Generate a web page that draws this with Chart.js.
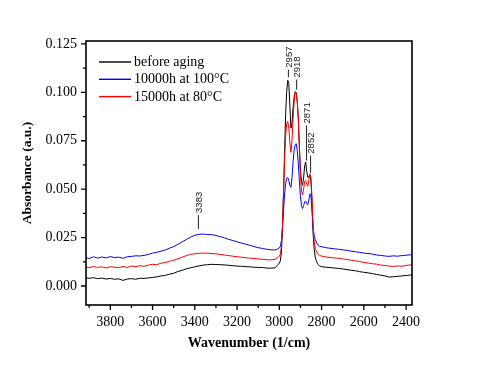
<!DOCTYPE html>
<html><head><meta charset="utf-8">
<script src="https://cdn.jsdelivr.net/npm/chart.js@4/dist/chart.umd.min.js"></script>
<style>html,body{margin:0;padding:0;background:#fff;}canvas{display:block;}</style>
</head><body>
<canvas id="c" width="480" height="367"></canvas>
<script>
const wavenumbers = [
  3920,3900,3880,3860,3840,3820,3800,3780,3760,3740,3720,3700,3680,3660,3640,3620,3600,3580,3560,3540,3520,3500,3480,3460,3440,3420,3400,3380,3360,3340,3320,3300,3280,3260,3240,3220,3200,3180,3160,3140,3120,3100,3080,3060,3040,3020,
  3010,3005,3000,2995,2990,2985,2980,2975,2970,2965,2960,2955,2950,2945,2940,2935,2930,2925,2920,2915,2910,2905,2900,2895,2890,2885,2880,2875,2870,2865,2860,2855,2850,2845,2840,2835,2830,2825,2820,2815,2810,
  2800,2780,2760,2740,2720,2700,2680,2660,2640,2620,2600,2580,2560,2540,2520,2500,2480,2460,2440,2420,2400,2380,2370
];
const beforeAging = [
  0.0042,0.0040,0.0043,0.0038,0.0041,0.0036,0.0039,0.0035,0.0037,0.0029,0.0036,0.0038,0.0035,0.0040,0.0039,0.0042,0.0044,0.0047,0.0052,0.0055,0.0061,0.0066,0.0075,0.0081,0.0089,0.0094,0.0099,0.0104,0.0108,0.0110,0.0112,0.0111,0.0110,0.0109,0.0107,0.0105,0.0103,0.0102,0.0100,0.0099,0.0097,0.0096,0.0095,0.0093,0.0092,0.0094,
  0.0105,0.0112,0.0118,0.0130,0.0175,0.0300,0.0480,0.0700,0.0890,0.1005,0.1062,0.1045,0.0930,0.0815,0.0840,0.0920,0.0975,0.1003,0.1000,0.0950,0.0860,0.0720,0.0600,0.0535,0.0520,0.0560,0.0620,0.0640,0.0590,0.0560,0.0565,0.0575,0.0540,0.0420,0.0270,0.0190,0.0150,0.0130,0.0118,0.0110,0.0104,
  0.0100,0.0097,0.0095,0.0093,0.0091,0.0088,0.0085,0.0081,0.0079,0.0074,0.0071,0.0068,0.0064,0.0060,0.0056,0.0052,0.0046,0.0048,0.0050,0.0052,0.0054,0.0057,0.0058
];
const aged10000h100C = [
  0.0148,0.0142,0.0151,0.0144,0.0150,0.0145,0.0152,0.0147,0.0149,0.0143,0.0151,0.0153,0.0156,0.0155,0.0158,0.0163,0.0170,0.0174,0.0180,0.0186,0.0195,0.0204,0.0215,0.0228,0.0240,0.0252,0.0262,0.0267,0.0268,0.0266,0.0265,0.0261,0.0255,0.0249,0.0241,0.0235,0.0228,0.0222,0.0216,0.0210,0.0204,0.0198,0.0194,0.0190,0.0187,0.0186,
  0.0190,0.0194,0.0196,0.0205,0.0235,0.0300,0.0390,0.0475,0.0530,0.0555,0.0560,0.0545,0.0520,0.0510,0.0560,0.0640,0.0700,0.0730,0.0735,0.0700,0.0630,0.0540,0.0460,0.0415,0.0400,0.0415,0.0435,0.0438,0.0425,0.0420,0.0445,0.0476,0.0465,0.0380,0.0300,0.0260,0.0240,0.0228,0.0218,0.0210,0.0205,
  0.0203,0.0198,0.0195,0.0192,0.0190,0.0187,0.0184,0.0180,0.0177,0.0174,0.0170,0.0168,0.0165,0.0160,0.0158,0.0155,0.0153,0.0156,0.0154,0.0157,0.0159,0.0161,0.0160
];
const aged15000h80C = [
  0.0100,0.0094,0.0101,0.0096,0.0099,0.0093,0.0100,0.0097,0.0095,0.0101,0.0096,0.0103,0.0100,0.0105,0.0102,0.0108,0.0112,0.0110,0.0118,0.0121,0.0127,0.0133,0.0141,0.0149,0.0157,0.0163,0.0167,0.0169,0.0170,0.0169,0.0168,0.0166,0.0163,0.0160,0.0157,0.0154,0.0151,0.0149,0.0146,0.0144,0.0142,0.0140,0.0138,0.0136,0.0135,0.0138,
  0.0145,0.0150,0.0153,0.0165,0.0205,0.0320,0.0490,0.0650,0.0775,0.0840,0.0850,0.0815,0.0740,0.0690,0.0750,0.0860,0.0950,0.0998,0.0998,0.0955,0.0860,0.0710,0.0570,0.0490,0.0470,0.0500,0.0540,0.0545,0.0525,0.0515,0.0550,0.0578,0.0560,0.0450,0.0310,0.0230,0.0195,0.0180,0.0170,0.0162,0.0157,
  0.0155,0.0150,0.0147,0.0145,0.0143,0.0140,0.0137,0.0133,0.0130,0.0126,0.0122,0.0119,0.0115,0.0113,0.0108,0.0106,0.0103,0.0101,0.0104,0.0102,0.0106,0.0109,0.0108
];
const seriesLabels = ['before aging', '10000h at 100°C', '15000h at 80°C'];
const xMajorTicks = [3800, 3600, 3400, 3200, 3000, 2800, 2600, 2400];
const xMinorTicks = [3900, 3700, 3500, 3300, 3100, 2900, 2700, 2500];
const yMajorTicks = [0, 0.025, 0.05, 0.075, 0.1, 0.125];
const yMinorTicks = [0.0125, 0.0375, 0.0625, 0.0875, 0.1125];
const peakLabels = ['3383', '2957', '2918', '2871', '2852'];
const peakPositions = [3383, 2957, 2918, 2871, 2852];
const peakLineBottom = [0.0295, 0.1078, 0.1014, 0.0648, 0.0583];
const peakLineTop = [0.0367, 0.1117, 0.1066, 0.0829, 0.0673];

function pts(vals) { return wavenumbers.map((w, i) => ({x: w, y: vals[i]})); }

const decorPlugin = {
  id: 'decor',
  afterDraw(chart) {
    const {ctx, chartArea: a, scales: {x, y}} = chart;
    ctx.save();
    ctx.strokeStyle = '#000';
    ctx.lineWidth = 1.6;
    ctx.strokeRect(a.left, a.top, a.right - a.left, a.bottom - a.top);
    ctx.lineWidth = 1.3;
    ctx.beginPath();
    xMajorTicks.forEach(v => { const p = x.getPixelForValue(v); ctx.moveTo(p, a.bottom); ctx.lineTo(p, a.bottom + 5); });
    xMinorTicks.forEach(v => { const p = x.getPixelForValue(v); ctx.moveTo(p, a.bottom); ctx.lineTo(p, a.bottom + 3); });
    yMajorTicks.forEach(v => { const p = y.getPixelForValue(v); ctx.moveTo(a.left, p); ctx.lineTo(a.left - 5, p); });
    yMinorTicks.forEach(v => { const p = y.getPixelForValue(v); ctx.moveTo(a.left, p); ctx.lineTo(a.left - 3, p); });
    ctx.stroke();
    // legend
    const ds = chart.data.datasets;
    ctx.font = '14px "Liberation Serif"';
    ctx.textAlign = 'left';
    ctx.textBaseline = 'middle';
    ds.forEach((d, i) => {
      const ly = 62 + i * 17.3;
      ctx.strokeStyle = d.borderColor;
      ctx.lineWidth = 1.4;
      ctx.beginPath(); ctx.moveTo(99, ly); ctx.lineTo(131, ly); ctx.stroke();
      ctx.fillStyle = '#000';
      ctx.fillText(d.label, 134, ly + 0.5);
    });
    // peak annotations
    ctx.strokeStyle = '#222';
    ctx.fillStyle = '#222';
    ctx.lineWidth = 1;
    ctx.font = '9.5px "Liberation Sans"';
    peakLabels.forEach((t, i) => {
      const px = x.getPixelForValue(peakPositions[i]);
      const yb = y.getPixelForValue(peakLineBottom[i]);
      const yt = y.getPixelForValue(peakLineTop[i]);
      ctx.beginPath(); ctx.moveTo(px, yb); ctx.lineTo(px, yt); ctx.stroke();
      ctx.save();
      ctx.translate(px, yt - 2);
      ctx.rotate(-Math.PI / 2);
      ctx.textAlign = 'left';
      ctx.textBaseline = 'middle';
      ctx.fillText(t, 0, 0.5);
      ctx.restore();
    });
    ctx.restore();
  }
};

new Chart(document.getElementById('c'), {
  type: 'line',
  data: {
    datasets: [
      {label: seriesLabels[0], data: pts(beforeAging), borderColor: '#000000', order: 3},
      {label: seriesLabels[1], data: pts(aged10000h100C), borderColor: '#0000ff', order: 2},
      {label: seriesLabels[2], data: pts(aged15000h80C), borderColor: '#ff0000', order: 1}
    ]
  },
  options: {
    responsive: false,
    animation: false,
    devicePixelRatio: 1,
    layout: {padding: {top: 41, right: 68, left: 0, bottom: 0}},
    elements: {line: {borderWidth: 1, tension: 0}, point: {radius: 0}},
    plugins: {legend: {display: false}, tooltip: {enabled: false}},
    scales: {
      x: {
        type: 'linear', reverse: true, min: 2372, max: 3915,
        afterFit(s) { s.height = 62; },
        afterBuildTicks(s) { s.ticks = xMajorTicks.map(v => ({value: v})); },
        grid: {display: false, drawTicks: false},
        border: {display: false},
        ticks: {color: '#000', padding: 9, maxRotation: 0, font: {family: 'Liberation Serif', size: 14}, callback: v => String(v)},
        title: {display: true, text: 'Wavenumber (1/cm)', color: '#000', padding: {top: 0, bottom: 15.5}, font: {family: 'Liberation Serif', size: 14, weight: 'bold'}}
      },
      y: {
        type: 'linear', min: -0.0098, max: 0.1265,
        afterFit(s) { s.width = 86; },
        afterBuildTicks(s) { s.ticks = yMajorTicks.map(v => ({value: v})); },
        grid: {display: false, drawTicks: false},
        border: {display: false},
        ticks: {color: '#000', padding: 9, font: {family: 'Liberation Serif', size: 14}, callback: v => v.toFixed(3)},
        title: {display: true, text: 'Absorbance (a.u.)', color: '#000', padding: {top: 19.5, bottom: 0}, font: {family: 'Liberation Serif', size: 13.5, weight: 'bold'}}
      }
    }
  },
  plugins: [decorPlugin]
});
</script>
</body></html>
